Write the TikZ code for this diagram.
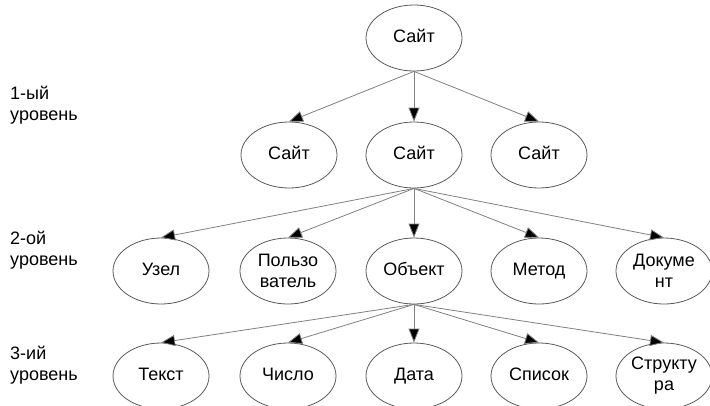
\documentclass[tikz,border=0pt]{standalone}
\usepackage{fontspec}
\setmainfont{Liberation Sans}
\usetikzlibrary{shapes.geometric,arrows.meta}
\begin{document}
\begin{tikzpicture}[x=1pt,y=-1pt,
  every node/.style={font=\fontsize{18}{21}\selectfont, text=black},
  ell/.style={ellipse, draw=black!65, line width=0.8pt, minimum width=96pt, minimum height=66pt, inner sep=0pt, align=center},
  one/.style={ell, text height=13pt, text depth=4pt},
  lvl/.style={anchor=north west, align=left, inner sep=0pt},
  arr/.style={draw=black!50, line width=0.8pt, -{Triangle[length=14pt,width=11pt,fill=black]}}
]
\useasboundingbox (0,0) rectangle (710,405);
% level labels
\node[lvl] (l1) at (10,86) {1-ый\\уровень};
\node[lvl] (l2) at (10,231) {2-ой\\уровень};
\node[lvl] (l3) at (10,346) {3-ий\\уровень};
% nodes
\node[one] (top) at (414,38) {Сайт};
\node[one] (s1) at (289,155) {Сайт};
\node[one] (s2) at (414,155) {Сайт};
\node[one] (s3) at (539,155) {Сайт};
\node[one] (a1) at (161,271) {Узел};
\node[ell] (a2) at (288,271) {Пользо\\ватель};
\node[one] (a3) at (414,271) {Объект};
\node[one] (a4) at (539,271) {Метод};
\node[ell] (a5) at (664,271) {Докуме\\нт};
\node[one] (b1) at (161,376) {Текст};
\node[one] (b2) at (288,376) {Число};
\node[one] (b3) at (414,376) {Дата};
\node[one] (b4) at (539,376) {Список};
\node[ell] (b5) at (664,376) {Структу\\ра};
% connectors
\foreach \c in {s1,s2,s3} \draw[arr] (top.south) -- (\c.north);
\foreach \c in {a1,a2,a3,a4,a5} \draw[arr] (s2.south) -- (\c.north);
\foreach \c in {b1,b2,b3,b4,b5} \draw[arr] (a3.south) -- (\c.north);
\end{tikzpicture}
\end{document}
